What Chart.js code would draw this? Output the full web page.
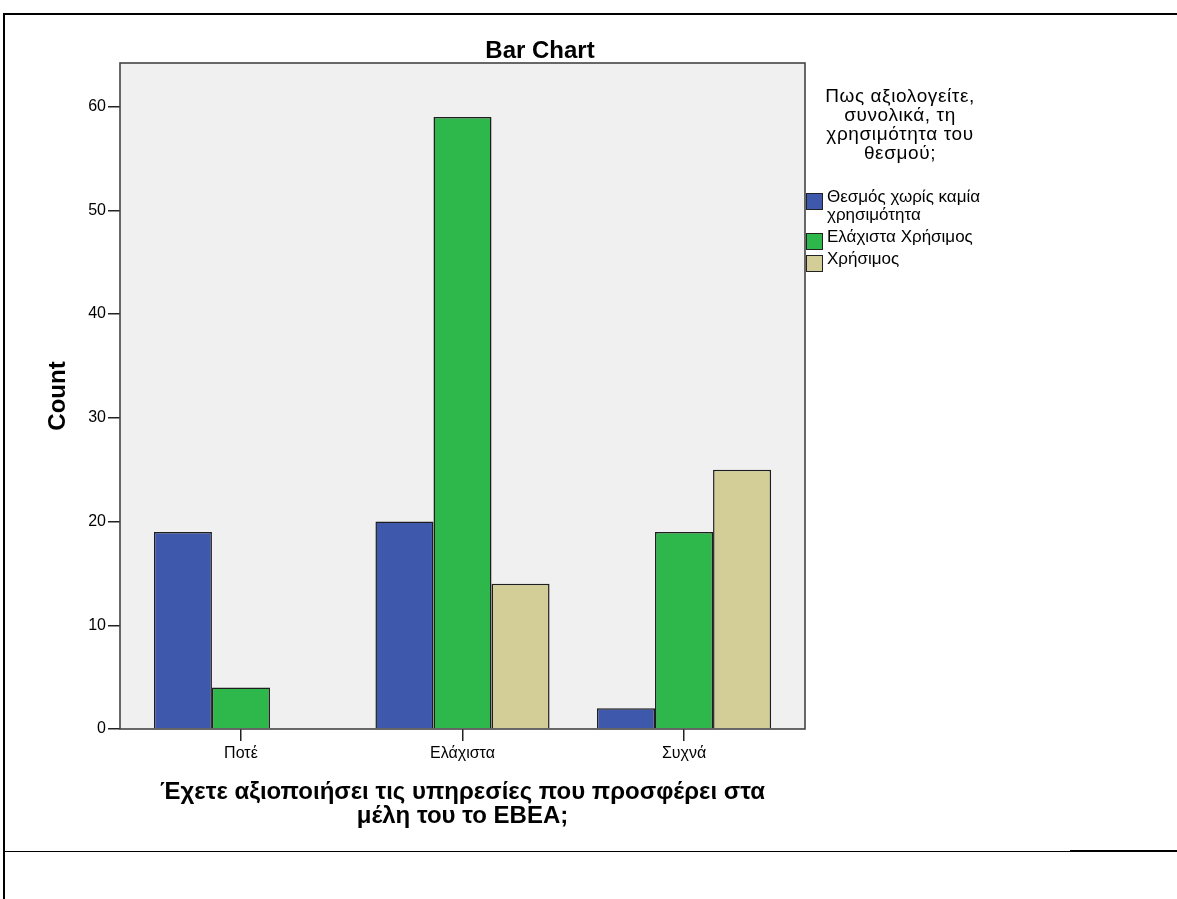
<!DOCTYPE html>
<html>
<head>
<meta charset="utf-8">
<script src="https://cdn.jsdelivr.net/npm/chart.js@4"></script>
<style>
  body { margin: 0; background: #fff; font-family: "Liberation Sans", Arial, sans-serif; }
  #wrap { position: relative; width: 1177px; height: 899px; }
  #chart { position: absolute; left: 0; top: 0; }
  .line { position: absolute; background: #000; }
  #title { position: absolute; left: 440px; top: 38px; width: 200px; text-align: center; font-weight: bold; font-size: 24px; line-height: 24px; color: #000; }
  #legend { position: absolute; left: 800px; top: 86px; width: 220px; color: #000; }
  #legend .ltitle { width: 200px; text-align: center; font-size: 19px; line-height: 19px; letter-spacing: 0.6px; margin-bottom: 26px; }
  #legend .item { position: relative; padding-left: 27px; font-size: 17px; line-height: 18px; margin-bottom: 4px; width: 168px; }
  #legend .sw { position: absolute; left: 6px; top: 5px; width: 15px; height: 15px; border: 1px solid #222; }
</style>
</head>
<body>
<div id="wrap">
  <canvas id="chart" width="1177" height="899"></canvas>
  <div class="line" style="left:3px; top:13px; width:1174px; height:2px;"></div>
  <div class="line" style="left:3px; top:13px; width:2px; height:886px;"></div>
  <div class="line" style="left:3px; top:851px; width:1067px; height:1px;"></div>
  <div class="line" style="left:1070px; top:850px; width:107px; height:2px;"></div>
  <div id="title">Bar Chart</div>
  <div id="legend"></div>
</div>
<script>
const categories = ['Ποτέ', 'Ελάχιστα', 'Συχνά'];
const seriesNames = ['Θεσμός χωρίς καμία χρησιμότητα', 'Ελάχιστα Χρήσιμος', 'Χρήσιμος'];
const noUse = [19, 20, 2];
const leastUseful = [4, 59, 19];
const useful = [0, 14, 25];
const yTicks = [0, 10, 20, 30, 40, 50, 60];
const colors = ['#3E58AB', '#2EB74B', '#D3CE98'];
const legendTitle = ['Πως αξιολογείτε,', 'συνολικά, τη', 'χρησιμότητα του', 'θεσμού;'];
const xTitle = ['Έχετε αξιοποιήσει τις υπηρεσίες που προσφέρει στα', 'μέλη του το ΕΒΕΑ;'];

const seriesValues = [noUse, leastUseful, useful];

// html legend, built from the series
const legendEl = document.getElementById('legend');
legendEl.innerHTML = '<div class="ltitle">' + legendTitle.join('<br>') + '</div>' +
  seriesNames.map((name, i) =>
    '<div class="item"><span class="sw" style="background:' + colors[i] + '"></span>' + name + '</div>'
  ).join('');

// grey plot background with a frame, like the SPSS plot area
const plotFrame = {
  id: 'plotFrame',
  beforeDraw(chart) {
    const { ctx, chartArea: a } = chart;
    ctx.save();
    ctx.fillStyle = '#F0F0F0';
    ctx.fillRect(a.left, a.top, a.right - a.left, a.bottom - a.top);
    ctx.restore();
  },
  afterDraw(chart) {
    const { ctx, chartArea: a } = chart;
    ctx.save();
    ctx.strokeStyle = '#444';
    ctx.lineWidth = 1.6;
    ctx.strokeRect(a.left, a.top, a.right - a.left, a.bottom - a.top);
    ctx.restore();
  }
};

const ctx = document.getElementById('chart').getContext('2d');
new Chart(ctx, {
  type: 'bar',
  data: {
    datasets: seriesValues.map((vals, i) => ({
      label: seriesNames[i],
      data: vals.map((v, j) => ({ x: j, y: v })),
      backgroundColor: colors[i],
      borderColor: '#1e1e1e',
      borderWidth: 1.5,
      borderSkipped: 'bottom',
      categoryPercentage: 0.786,
      barPercentage: 1.0,
    })),
  },
  options: {
    responsive: false,
    animation: false,
    layout: { padding: { left: 44, top: 63, right: 372, bottom: 70 } },
    plugins: {
      legend: { display: false },
      title: { display: false },
      tooltip: { enabled: false },
    },
    scales: {
      x: {
        type: 'linear',
        min: -0.546,
        max: 2.546,
        offset: false,
        grid: { offset: false, drawOnChartArea: false, drawTicks: true, tickLength: 12, color: '#222', lineWidth: 1.5 },
        border: { display: false },
        ticks: {
          stepSize: 1,
          includeBounds: false,
          padding: 3,
          color: '#000',
          font: { family: '"Liberation Sans", Arial', size: 16 },
          callback: (value) => categories[value] ?? '',
        },
        title: {
          display: true,
          text: xTitle,
          color: '#000',
          font: { family: '"Liberation Sans", Arial', size: 24, weight: 'bold', lineHeight: 1.0 },
          padding: { top: 0, bottom: 1 },
        },
        afterFit: (scale) => { scale.height = 100; },
      },
      y: {
        min: 0,
        max: 64.2,
        grid: { drawOnChartArea: false, drawTicks: true, tickLength: 12, color: '#222', lineWidth: 1.5 },
        border: { display: false },
        ticks: {
          stepSize: 10,
          includeBounds: false,
          padding: 2,
          color: '#000',
          font: { family: '"Liberation Sans", Arial', size: 16 },
          callback: (value) => yTicks.includes(value) ? String(value) : '',
        },
        title: {
          display: true,
          text: 'Count',
          color: '#000',
          font: { family: '"Liberation Sans", Arial', size: 24, weight: 'bold' },
          padding: { top: 0, bottom: 0 },
        },
        afterFit: (scale) => { scale.width = 76; },
      },
    },
  },
  plugins: [plotFrame],
});
</script>
</body>
</html>
